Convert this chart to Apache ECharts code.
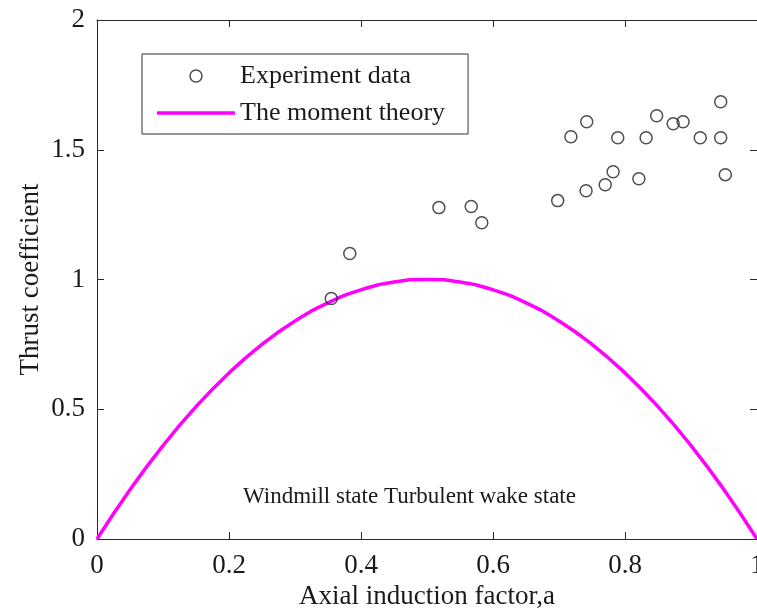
<!DOCTYPE html>
<html>
<head>
<meta charset="utf-8">
<script src="https://cdn.jsdelivr.net/npm/echarts@6/dist/echarts.min.js"></script>
<style>
  html, body { margin: 0; padding: 0; background: #fff; }
  #chart { width: 757px; height: 608px; }
</style>
</head>
<body>
<div id="chart"></div>
<script>
// Measured thrust coefficients versus axial induction factor
const expA  = [0.355, 0.383, 0.518, 0.567, 0.583, 0.698, 0.718, 0.742, 0.741, 0.770, 0.782,
               0.789, 0.821, 0.832, 0.848, 0.873, 0.888, 0.914, 0.945, 0.945, 0.952];
const expCt = [0.927, 1.100, 1.277, 1.281, 1.219, 1.304, 1.550, 1.608, 1.342, 1.365, 1.415,
               1.546, 1.388, 1.546, 1.631, 1.600, 1.608, 1.546, 1.546, 1.685, 1.404];

// Momentum theory curve, sampled along a
const theoryA  = [0, 0.05, 0.10, 0.15, 0.20, 0.25, 0.30, 0.35, 0.40, 0.45, 0.50,
                  0.55, 0.60, 0.65, 0.70, 0.75, 0.80, 0.85, 0.90, 0.95, 1.00];
const theoryCt = [0, 0.19, 0.36, 0.51, 0.64, 0.75, 0.84, 0.91, 0.96, 0.99, 1.00,
                  0.99, 0.96, 0.91, 0.84, 0.75, 0.64, 0.51, 0.36, 0.19, 0];

const xTicks = { min: 0, max: 1, interval: 0.2 };
const yTicks = { min: 0, max: 2, interval: 0.5 };

const seriesNames = ['Experiment data', 'The moment theory'];
const stateLabel = 'Windmill state Turbulent wake state';

const FONT = '"Liberation Serif", "Times New Roman", serif';
const INK = '#1a1a1a';
const AXIS = '#2b2b2b';

const chart = echarts.init(document.getElementById('chart'), null, { renderer: 'canvas' });

const axisCommon = {
  type: 'value',
  axisLine: { show: true, onZero: false, lineStyle: { color: AXIS, width: 1 } },
  axisTick: { show: true, inside: true, length: 7, lineStyle: { color: AXIS, width: 1 } },
  splitLine: { show: false }
};

chart.setOption({
  backgroundColor: '#fff',
  animation: false,
  grid: { left: 97, right: 0, top: 20, bottom: 69, containLabel: false, outerBoundsMode: 'none' },
  xAxis: [
    Object.assign({}, axisCommon, xTicks, {
      position: 'bottom',
      name: 'Axial induction factor,a',
      nameLocation: 'middle',
      nameGap: 41,
      nameTextStyle: { fontFamily: FONT, fontSize: 27, color: INK },
      axisLabel: { margin: 13, fontFamily: FONT, fontSize: 27, color: INK }
    }),
    Object.assign({}, axisCommon, xTicks, {
      position: 'top',
      axisLabel: { show: false }
    })
  ],
  yAxis: [
    Object.assign({}, axisCommon, yTicks, {
      position: 'left',
      name: 'Thrust coefficient',
      nameLocation: 'middle',
      nameGap: 53,
      nameMoveOverlap: false,
      nameTextStyle: { fontFamily: FONT, fontSize: 27, color: INK },
      axisLabel: { margin: 12, fontFamily: FONT, fontSize: 27, color: INK }
    }),
    Object.assign({}, axisCommon, yTicks, {
      position: 'right',
      axisLabel: { show: false }
    })
  ],
  legend: {
    orient: 'vertical',
    left: 142,
    top: 54,
    padding: [8, 23, 7, 15],
    itemWidth: 78,
    itemHeight: 12,
    itemGap: 9,
    symbolKeepAspect: true,
    backgroundColor: '#fff',
    borderColor: '#333',
    borderWidth: 1,
    borderRadius: 0,
    textStyle: { fontFamily: FONT, fontSize: 26, color: INK, lineHeight: 28 },
    data: [
      {
        name: seriesNames[0],
        icon: 'circle',
        itemStyle: { color: 'rgba(0,0,0,0)', borderColor: '#222', borderWidth: 1.5 }
      },
      {
        name: seriesNames[1],
        icon: 'path://M0,0 L78,0 L78,3.5 L0,3.5 Z',
        itemStyle: { color: '#ff00ff', borderWidth: 0 }
      }
    ]
  },
  graphic: [
    {
      type: 'text',
      left: 243,
      top: 485,
      silent: true,
      style: { text: stateLabel, font: '23px ' + FONT, fill: INK }
    }
  ],
  series: [
    {
      name: seriesNames[1],
      type: 'line',
      data: theoryA.map((a, i) => [a, theoryCt[i]]),
      smooth: true,
      symbol: 'none',
      showSymbol: false,
      clip: true,
      z: 2,
      lineStyle: { color: '#ff00ff', width: 3.5 },
      itemStyle: { color: '#ff00ff' }
    },
    {
      name: seriesNames[0],
      type: 'scatter',
      data: expA.map((a, i) => [a, expCt[i]]),
      symbol: 'circle',
      symbolSize: 12,
      z: 3,
      itemStyle: { color: 'rgba(0,0,0,0)', borderColor: '#222', borderWidth: 1.5 }
    }
  ]
});
</script>
</body>
</html>
